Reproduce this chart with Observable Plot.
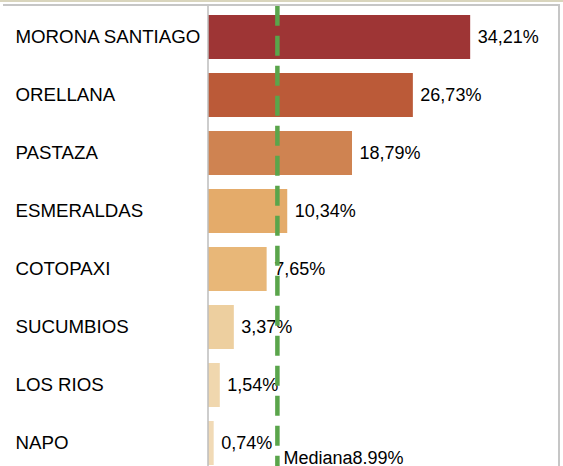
<!DOCTYPE html>
<html>
<head>
<meta charset="utf-8">
<script src="https://cdn.jsdelivr.net/npm/d3@7"></script>
<script src="https://cdn.jsdelivr.net/npm/@observablehq/plot@0.6"></script>
<style>
  html, body { margin: 0; padding: 0; background: #fff; overflow: hidden; }
  #wrap { position: relative; width: 563px; height: 466px; overflow: hidden; }
  #chart { position: absolute; left: 0; top: 0; }
  .line { position: absolute; }
</style>
</head>
<body>
<div id="wrap">
  <div id="chart"></div>
  <div class="line" style="left:0;top:0;width:563px;height:2px;background:#d9d5bd;"></div>
  <div class="line" style="left:3px;top:4px;width:557px;height:2px;background:#c6c6c6;"></div>
  <div class="line" style="left:558px;top:4px;width:2px;height:462px;background:#c6c6c6;"></div>
</div>
<script>
const provinces = ["MORONA SANTIAGO", "ORELLANA", "PASTAZA", "ESMERALDAS", "COTOPAXI", "SUCUMBIOS", "LOS RIOS", "NAPO"];
const values = [34.21, 26.73, 18.79, 10.34, 7.65, 3.37, 1.54, 0.74];
const colors = ["#9e3535", "#bb5a38", "#cf8351", "#e4ab6a", "#e8b778", "#edcf9f", "#f0d7ae", "#f1dab6"];
const medianValue = 8.99;
const medianLabel = "Mediana8.99%";

const data = provinces.map((p, i) => ({province: p, value: values[i], color: colors[i]}));
const fmt = v => d3.format(".2f")(v).replace(".", ",") + "%";

const chart = Plot.plot({
  width: 563,
  height: 475,
  marginLeft: 208,
  marginRight: 4,
  marginTop: 4.7,
  marginBottom: 0,
  style: {fontFamily: "'Liberation Sans', Arial, sans-serif", fontSize: "18px", color: "#000", background: "transparent"},
  x: {domain: [0, 45.8], axis: null},
  y: {domain: provinces, paddingInner: 0.25, paddingOuter: 0.125, label: null},
  marks: [
    Plot.barX(data, {y: "province", x: "value", fill: "color"}),
    Plot.text(data, {y: "province", x: "value", text: d => fmt(d.value), textAnchor: "start", dx: 7, fill: "#000"}),
    Plot.ruleX([0], {stroke: "#bdbdbd", strokeWidth: 1.5, dx: -0.5}),
    Plot.ruleX([medianValue], {stroke: "#5aa54b", strokeWidth: 4.5, strokeDasharray: "20,10", dy: 1}),
    Plot.text([medianValue], {x: d => d, text: () => medianLabel, frameAnchor: "bottom", textAnchor: "start", lineAnchor: "middle", dx: 6, dy: -17, fill: "#000"}),
    Plot.axisY({tickSize: 0, tickPadding: 0, textAnchor: "start", dx: -193, label: null, fill: "#000", fontSize: 18.7})
  ]
});
document.getElementById("chart").appendChild(chart);
</script>
</body>
</html>
